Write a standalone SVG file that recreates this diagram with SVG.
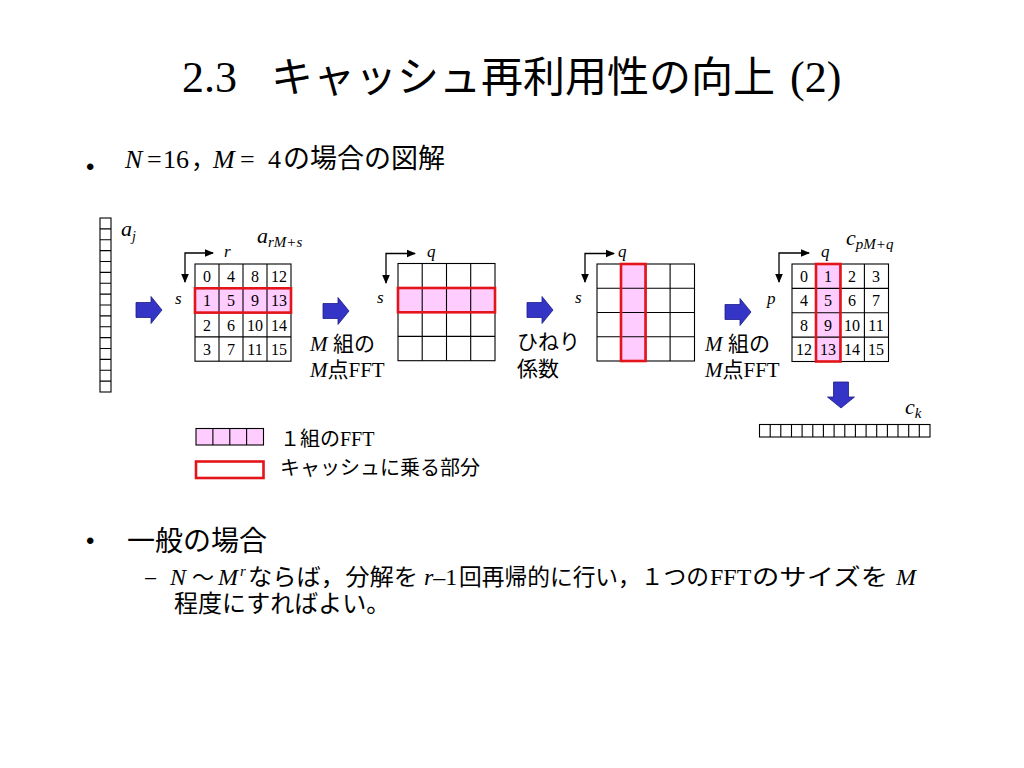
<svg xmlns="http://www.w3.org/2000/svg" width="1024" height="768" viewBox="0 0 1024 768">
<defs>
<style>
.tm{font-family:"Liberation Serif","Noto Sans CJK JP",serif;fill:#000}
.jp{font-family:"Noto Sans CJK JP","Liberation Sans",sans-serif;fill:#000}
.sans{font-family:"Liberation Sans","Noto Sans CJK JP",sans-serif;fill:#000}
.it{font-style:italic}
.num{font-family:"Liberation Serif",serif;font-size:16px;text-anchor:middle;fill:#000}
.cell{fill:none;stroke:#000;stroke-width:1.1}
.hl{fill:#FFCCFF;stroke:none}
.red{fill:none;stroke:#E4141B;stroke-width:2.6}
.axis{fill:none;stroke:#000;stroke-width:1.3;marker-start:url(#ah);marker-end:url(#ah)}
.blk{fill:#3434C6;stroke:#1C1C88;stroke-width:0.8}
</style>
<marker id="ah" markerWidth="10" markerHeight="10" refX="8" refY="5" orient="auto-start-reverse" markerUnits="userSpaceOnUse">
<path d="M0,1.2 L9,5 L0,8.8 Z" fill="#000"/>
</marker>
<path id="barrow" d="M0,-7.5 H15 V-13.5 L26,0 L15,13.5 V7.5 H0 Z"/>
</defs>
<rect width="1024" height="768" fill="#fff"/>

<!-- Title -->
<text class="tm" y="92"><tspan x="182" font-size="44">2.3</tspan><tspan x="271" class="jp" font-size="42">キャッシュ再利用性の向上</tspan><tspan x="790" font-size="44">(2)</tspan></text>

<!-- Bullet 1 -->
<text class="sans" x="86" y="175" font-size="24">•</text>
<text class="tm" y="168" font-size="26"><tspan x="125" class="it">N</tspan><tspan x="147">=</tspan><tspan x="163">16</tspan><tspan x="191" class="jp" font-size="24">，</tspan><tspan x="213" class="it">M</tspan><tspan x="240">=</tspan><tspan x="268">4</tspan><tspan x="283" class="jp" font-size="27">の場合の図解</tspan></text>

<!-- a_j column -->
<g id="aj">
<rect class="cell" x="100" y="218" width="11" height="174"/>
<path class="cell" d="M100,228.9H111M100,239.8H111M100,250.6H111M100,261.5H111M100,272.4H111M100,283.3H111M100,294.1H111M100,305H111M100,315.9H111M100,326.8H111M100,337.6H111M100,348.5H111M100,359.4H111M100,370.3H111M100,381.1H111"/>
<text class="tm it" x="121" y="236" font-size="22">a<tspan font-size="14" dy="5">j</tspan></text>
</g>

<g id="connectors">
<use href="#barrow" class="blk" x="136" y="310"/>
<use href="#barrow" class="blk" x="323" y="311"/>
<use href="#barrow" class="blk" x="527" y="310"/>
<use href="#barrow" class="blk" x="725" y="312"/>
<use href="#barrow" class="blk" transform="translate(841,382) rotate(90)"/>
<path class="axis" d="M213,253H185V282"/>
<path class="axis" d="M415,253.5H386V283"/>
<path class="axis" d="M614,253.5H585V282"/>
<path class="axis" d="M809,253H779V282"/>
</g>

<!-- Grid 1 -->
<g id="grid1">
<rect class="hl" x="195" y="288.3" width="96" height="24.3"/>
<rect class="cell" x="195" y="264" width="96" height="97.2"/>
<path class="cell" d="M219,264V361.2M243,264V361.2M267,264V361.2M195,288.3H291M195,312.6H291M195,336.9H291"/>
<rect class="red" x="195" y="288.3" width="96" height="24.3"/>
<text class="num" x="207" y="282">0</text><text class="num" x="231" y="282">4</text><text class="num" x="255" y="282">8</text><text class="num" x="279" y="282">12</text>
<text class="num" x="207" y="306">1</text><text class="num" x="231" y="306">5</text><text class="num" x="255" y="306">9</text><text class="num" x="279" y="306">13</text>
<text class="num" x="207" y="331">2</text><text class="num" x="231" y="331">6</text><text class="num" x="255" y="331">10</text><text class="num" x="279" y="331">14</text>
<text class="num" x="207" y="355">3</text><text class="num" x="231" y="355">7</text><text class="num" x="255" y="355">11</text><text class="num" x="279" y="355">15</text>
<text class="tm it" x="224" y="257" font-size="17">r</text>
<text class="tm it" x="175" y="304" font-size="17">s</text>
<text class="tm it" x="257" y="243" font-size="22">a<tspan font-size="15" dy="4">rM+s</tspan></text>
</g>

<!-- Grid 2 -->
<g id="grid2">
<rect class="hl" x="398" y="288" width="97" height="24.3"/>
<rect class="cell" x="398" y="263.5" width="97" height="97.2"/>
<path class="cell" d="M422.2,263.5V360.7M446.5,263.5V360.7M470.7,263.5V360.7M398,287.8H495M398,312.1H495M398,336.4H495"/>
<rect class="red" x="398" y="288" width="97" height="24.3"/>
<text class="tm it" x="427" y="257" font-size="17">q</text>
<text class="tm it" x="377" y="303" font-size="17">s</text>
<text class="tm" y="351" font-size="21"><tspan x="310" class="it">M</tspan><tspan x="333" class="jp">組の</tspan></text>
<text class="tm" y="377" font-size="21"><tspan x="310" class="it">M</tspan><tspan class="jp">点</tspan><tspan font-family="Liberation Serif, serif">FFT</tspan></text>
</g>

<!-- Grid 3 -->
<g id="grid3">
<rect class="hl" x="621" y="264" width="24.5" height="97"/>
<rect class="cell" x="597" y="264" width="97.5" height="97"/>
<path class="cell" d="M621.4,264V361M645.8,264V361M670.1,264V361M597,288.2H694.5M597,312.5H694.5M597,336.7H694.5"/>
<rect class="red" x="621" y="264" width="24.5" height="97"/>
<text class="tm it" x="618" y="257" font-size="17">q</text>
<text class="tm it" x="575" y="303" font-size="17">s</text>
<text class="jp" x="517" y="349" font-size="21">ひねり</text>
<text class="jp" x="517" y="376" font-size="21">係数</text>
</g>

<!-- Grid 4 -->
<g id="grid4">
<rect class="hl" x="816" y="264" width="24.5" height="97.5"/>
<rect class="cell" x="792" y="264" width="96.5" height="97.5"/>
<path class="cell" d="M816.1,264V361.5M840.2,264V361.5M864.4,264V361.5M792,288.4H888.5M792,312.8H888.5M792,337.1H888.5"/>
<rect class="red" x="816" y="264" width="24.5" height="97.5"/>
<text class="num" x="804" y="282">0</text><text class="num" x="828" y="282">1</text><text class="num" x="852" y="282">2</text><text class="num" x="876" y="282">3</text>
<text class="num" x="804" y="306">4</text><text class="num" x="828" y="306">5</text><text class="num" x="852" y="306">6</text><text class="num" x="876" y="306">7</text>
<text class="num" x="804" y="331">8</text><text class="num" x="828" y="331">9</text><text class="num" x="852" y="331">10</text><text class="num" x="876" y="331">11</text>
<text class="num" x="804" y="355">12</text><text class="num" x="828" y="355">13</text><text class="num" x="852" y="355">14</text><text class="num" x="876" y="355">15</text>
<text class="tm it" x="821" y="257" font-size="17">q</text>
<text class="tm it" x="767" y="304" font-size="17">p</text>
<text class="tm it" x="846" y="245" font-size="22">c<tspan font-size="15" dy="4">pM+q</tspan></text>
<text class="tm" y="351" font-size="21"><tspan x="705" class="it">M</tspan><tspan x="728" class="jp">組の</tspan></text>
<text class="tm" y="377" font-size="21"><tspan x="705" class="it">M</tspan><tspan class="jp">点</tspan><tspan font-family="Liberation Serif, serif">FFT</tspan></text>
</g>

<!-- c_k row -->
<g id="ck">
<rect class="cell" x="759.5" y="424.5" width="170.5" height="12.5"/>
<path class="cell" d="M770.2,424.5V437M780.8,424.5V437M791.5,424.5V437M802.1,424.5V437M812.8,424.5V437M823.4,424.5V437M834.1,424.5V437M844.8,424.5V437M855.4,424.5V437M866.1,424.5V437M876.7,424.5V437M887.4,424.5V437M898,424.5V437M908.7,424.5V437M919.3,424.5V437"/>
<text class="tm it" x="905" y="414" font-size="22">c<tspan font-size="15" dy="4">k</tspan></text>
</g>

<!-- Legend -->
<g id="legend">
<rect x="196" y="428.5" width="67.5" height="16.5" fill="#FFCCFF" stroke="#000" stroke-width="1.1"/>
<path class="cell" d="M212.9,428.5V445M229.8,428.5V445M246.6,428.5V445"/>
<rect x="196" y="461.5" width="67.5" height="16.5" fill="#fff" stroke="#E4141B" stroke-width="2.6"/>
<text class="tm" x="280" y="446" font-size="20"><tspan class="jp">１組の</tspan><tspan font-family="Liberation Serif, serif">FFT</tspan></text>
<text class="jp" x="280" y="475" font-size="20">キャッシュに乗る部分</text>
</g>

<!-- Bullet 2 -->
<text class="sans" x="86" y="549" font-size="24">•</text>
<text class="jp" x="127" y="551" font-size="28">一般の場合</text>
<text class="sans" x="145" y="584" font-size="20">–</text>
<text class="tm it" x="170" y="585" font-size="24">N</text>
<text class="jp" x="192" y="585" font-size="22">～</text>
<text class="tm it" x="218" y="585" font-size="24">M</text>
<text class="tm it" x="240" y="576" font-size="15">r</text>
<text class="jp" x="248" y="585" font-size="23" textLength="170" lengthAdjust="spacingAndGlyphs">ならば，分解を</text>
<text class="tm" x="424" y="585" font-size="24"><tspan class="it">r</tspan>–1</text>
<text class="jp" x="459" y="585" font-size="23" textLength="250" lengthAdjust="spacingAndGlyphs">回再帰的に行い，１つの</text>
<text class="tm" x="710" y="585" font-size="24">FFT</text>
<text class="jp" x="752" y="585" font-size="23" textLength="136" lengthAdjust="spacingAndGlyphs">のサイズを</text>
<text class="tm it" x="896" y="585" font-size="24">M</text>
<text class="jp" x="174" y="612" font-size="24">程度にすればよい。</text>
</svg>
